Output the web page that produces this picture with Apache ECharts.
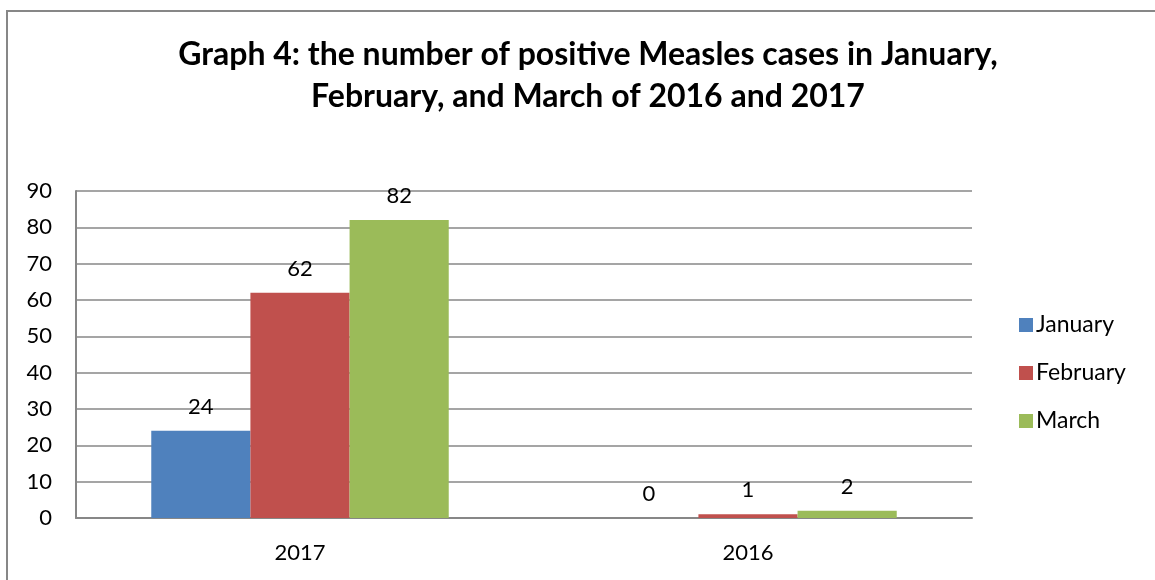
<!DOCTYPE html>
<html>
<head>
<meta charset="utf-8">
<script src="https://cdn.jsdelivr.net/npm/echarts@6/dist/echarts.min.js"></script>
<style>
html,body{margin:0;padding:0;background:#fff;}
#wrap{position:relative;width:1155px;height:580px;overflow:hidden;}
#chart{position:absolute;left:0;top:0;width:1155px;height:580px;}
#frame{position:absolute;left:6px;top:10px;width:1160px;height:600px;border:2px solid #878787;box-sizing:border-box;pointer-events:none;}
</style>
</head>
<body>
<div id="wrap"><div id="chart"></div><div id="frame"></div></div>
<script>
const categories = ['2017', '2016'];
const january = [24, 0];
const february = [62, 1];
const march = [82, 2];
const yTicks = [0, 10, 20, 30, 40, 50, 60, 70, 80, 90];

const font = 'Lato, "Open Sans", sans-serif';
const chart = echarts.init(document.getElementById('chart'), null, {renderer: 'canvas'});
const lbl = {show: true, position: 'top', distance: 13, color: '#000', fontSize: 22, fontFamily: font};
chart.setOption({
  animation: false,
  textStyle: {fontFamily: font},
  title: {
    text: 'Graph 4: the number of positive Measles cases in January,\nFebruary, and March of 2016 and 2017',
    left: 583, top: 29, textAlign: 'center',
    textStyle: {fontSize: 32, fontWeight: 'bold', color: '#000', lineHeight: 42, fontFamily: font}
  },
  legend: {
    orient: 'vertical', left: 1014, top: 308, itemGap: 24,
    itemWidth: 14, itemHeight: 14, icon: 'rect',
    textStyle: {fontSize: 23, lineHeight: 24, color: '#000', fontFamily: font, padding: [0, 0, 0, -2]},
    data: ['January', 'February', 'March']
  },
  grid: {left: 76, right: 183, top: 191, bottom: 62, containLabel: false},
  xAxis: {
    type: 'category', data: categories,
    axisLine: {lineStyle: {color: '#878787', width: 2}},
    axisTick: {show: false},
    axisLabel: {color: '#000', fontSize: 22, margin: 24, fontFamily: font}
  },
  yAxis: {
    type: 'value', min: yTicks[0], max: yTicks[yTicks.length - 1], interval: 10,
    axisLine: {show: true, lineStyle: {color: '#878787', width: 2}},
    axisTick: {show: false},
    splitLine: {lineStyle: {color: '#878787', width: 1.5}},
    axisLabel: {color: '#000', fontSize: 22, margin: 24, fontFamily: font}
  },
  series: [
    {name: 'January', type: 'bar', data: january, barGap: '0%', barCategoryGap: '33.6%', itemStyle: {color: '#4F81BD'}, label: lbl},
    {name: 'February', type: 'bar', data: february, barGap: '0%', barCategoryGap: '33.6%', itemStyle: {color: '#C0504D'}, label: lbl},
    {name: 'March', type: 'bar', data: march, barGap: '0%', barCategoryGap: '33.6%', itemStyle: {color: '#9BBB59'}, label: lbl}
  ]
});
</script>
</body>
</html>
